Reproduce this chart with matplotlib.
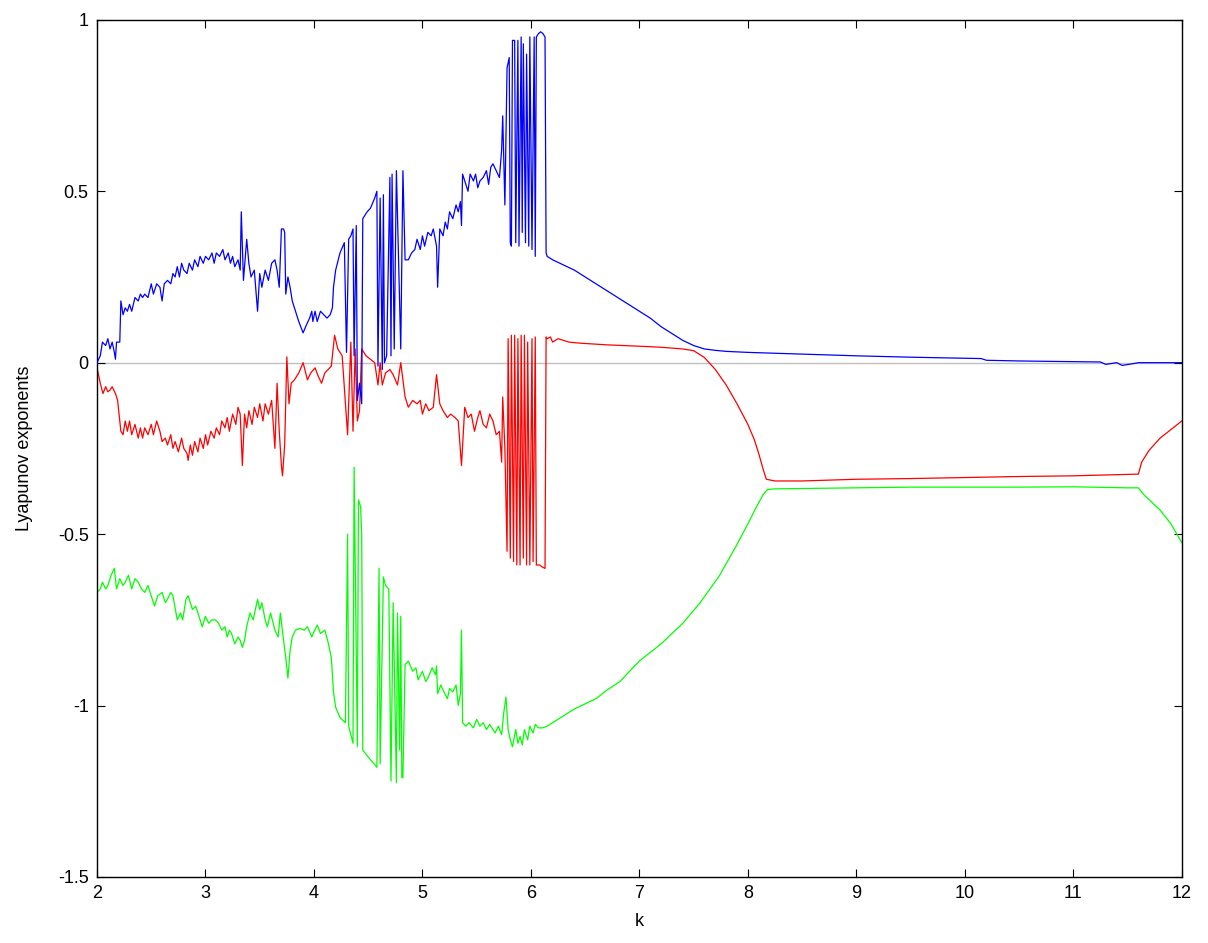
import matplotlib
matplotlib.use("Agg")
import matplotlib.pyplot as plt

plt.rcParams["font.family"] = ["Liberation Sans", "DejaVu Sans"]

# ---- lambda 1 (blue) ----
k_blue = [2.00, 2.03, 2.05, 2.08, 2.10, 2.12, 2.14, 2.16, 2.17, 2.18, 2.21, 2.22, 2.24, 2.26, 2.28,
          2.30, 2.32, 2.35, 2.38, 2.40, 2.42, 2.44, 2.47, 2.50, 2.52, 2.55, 2.58, 2.60, 2.62, 2.65,
          2.68, 2.70, 2.72, 2.74, 2.76, 2.78, 2.80, 2.83, 2.85, 2.88, 2.90, 2.93, 2.95, 2.98, 3.00,
          3.03, 3.06, 3.08, 3.10, 3.13, 3.16, 3.18, 3.21, 3.23, 3.25, 3.27, 3.30, 3.32, 3.33, 3.35,
          3.38, 3.40, 3.42, 3.45, 3.48, 3.50, 3.52, 3.55, 3.58, 3.61, 3.64, 3.66, 3.68, 3.70, 3.72,
          3.73, 3.74, 3.76, 3.78, 3.80, 3.83, 3.86, 3.90, 3.93, 3.96, 3.98, 3.99, 4.01, 4.03, 4.06,
          4.09, 4.12, 4.15, 4.17, 4.18, 4.20, 4.24, 4.28, 4.30, 4.32, 4.34, 4.36, 4.37, 4.39, 4.40,
          4.42, 4.44, 4.45, 4.49, 4.52, 4.56, 4.58, 4.59, 4.61, 4.63, 4.64, 4.65, 4.67, 4.70, 4.71,
          4.72, 4.74, 4.76, 4.80, 4.82, 4.84, 4.87, 4.90, 4.93, 4.95, 4.98, 5.00, 5.02, 5.05, 5.08,
          5.10, 5.13, 5.14, 5.16, 5.19, 5.21, 5.23, 5.25, 5.28, 5.31, 5.33, 5.35, 5.36, 5.37, 5.40,
          5.42, 5.44, 5.47, 5.49, 5.51, 5.53, 5.56, 5.59, 5.61, 5.63, 5.65, 5.68, 5.71, 5.73, 5.74,
          5.76, 5.78, 5.80, 5.81, 5.82, 5.83, 5.85, 5.86, 5.88, 5.89, 5.91, 5.92, 5.93, 5.95, 5.96,
          5.98, 5.99, 6.01, 6.03, 6.04, 6.05, 6.07, 6.09, 6.11, 6.13, 6.14, 6.15, 6.20, 6.30, 6.40,
          6.50, 6.60, 6.70, 6.80, 6.90, 7.00, 7.10, 7.20, 7.30, 7.40, 7.50, 7.60, 7.70, 7.80, 8.00,
          8.30, 8.60, 9.00, 9.50, 10.00, 10.15, 10.20, 10.50, 11.00, 11.25, 11.30, 11.40, 11.45, 11.55, 11.60,
          12.00]
lam1 = [0.00, 0.02, 0.06, 0.05, 0.07, 0.04, 0.06, 0.03, 0.01, 0.06, 0.06, 0.18, 0.14, 0.16, 0.15,
        0.17, 0.15, 0.19, 0.18, 0.20, 0.19, 0.20, 0.19, 0.23, 0.20, 0.23, 0.22, 0.18, 0.23, 0.24,
        0.23, 0.26, 0.25, 0.28, 0.25, 0.29, 0.27, 0.26, 0.29, 0.27, 0.30, 0.28, 0.31, 0.29, 0.31,
        0.30, 0.32, 0.29, 0.32, 0.31, 0.33, 0.30, 0.32, 0.29, 0.31, 0.28, 0.30, 0.27, 0.44, 0.24,
        0.36, 0.29, 0.25, 0.27, 0.15, 0.26, 0.22, 0.27, 0.24, 0.29, 0.30, 0.27, 0.22, 0.39, 0.39,
        0.38, 0.20, 0.25, 0.22, 0.18, 0.15, 0.12, 0.087, 0.11, 0.13, 0.15, 0.12, 0.15, 0.12, 0.15,
        0.14, 0.13, 0.14, 0.16, 0.22, 0.27, 0.32, 0.35, 0.03, 0.36, 0.37, 0.39, 0.02, 0.40, -0.11,
        -0.06, -0.12, 0.42, 0.44, 0.45, 0.48, 0.50, -0.01, 0.48, -0.02, 0.49, 0.00, 0.02, 0.54, 0.02,
        0.55, 0.04, 0.56, 0.04, 0.56, 0.30, 0.30, 0.32, 0.33, 0.36, 0.33, 0.37, 0.34, 0.38, 0.37,
        0.39, 0.34, 0.22, 0.39, 0.37, 0.41, 0.39, 0.44, 0.42, 0.46, 0.44, 0.47, 0.40, 0.55, 0.52,
        0.50, 0.55, 0.53, 0.55, 0.51, 0.53, 0.54, 0.56, 0.52, 0.57, 0.58, 0.56, 0.54, 0.62, 0.72,
        0.46, 0.86, 0.89, 0.35, 0.34, 0.94, 0.94, 0.35, 0.94, 0.34, 0.95, 0.38, 0.93, 0.35, 0.90,
        0.34, 0.95, 0.33, 0.95, 0.31, 0.95, 0.96, 0.965, 0.96, 0.95, 0.32, 0.31, 0.30, 0.285, 0.27,
        0.25, 0.23, 0.21, 0.19, 0.17, 0.15, 0.13, 0.105, 0.085, 0.065, 0.05, 0.04, 0.036, 0.033, 0.03,
        0.027, 0.024, 0.02, 0.016, 0.013, 0.012, 0.007, 0.005, 0.003, 0.002, -0.005, 0.0, -0.008, -0.003, 0.0,
        0.0]

# ---- lambda 2 (red) ----
k_red = [2.00, 2.03, 2.055, 2.08, 2.10, 2.12, 2.14, 2.17, 2.19, 2.22, 2.24, 2.26, 2.28, 2.30, 2.32,
         2.35, 2.38, 2.40, 2.42, 2.44, 2.47, 2.50, 2.52, 2.55, 2.58, 2.60, 2.63, 2.65, 2.68, 2.70,
         2.72, 2.75, 2.78, 2.80, 2.83, 2.84, 2.86, 2.88, 2.90, 2.93, 2.95, 2.98, 3.00, 3.02, 3.05,
         3.08, 3.10, 3.13, 3.15, 3.18, 3.20, 3.22, 3.25, 3.28, 3.30, 3.32, 3.34, 3.36, 3.38, 3.40,
         3.43, 3.45, 3.48, 3.50, 3.53, 3.55, 3.58, 3.61, 3.64, 3.66, 3.68, 3.70, 3.71, 3.73, 3.75,
         3.77, 3.79, 3.82, 3.86, 3.90, 3.94, 3.97, 4.01, 4.04, 4.07, 4.10, 4.13, 4.16, 4.19, 4.22,
         4.26, 4.31, 4.34, 4.36, 4.38, 4.40, 4.42, 4.44, 4.48, 4.52, 4.56, 4.59, 4.61, 4.63, 4.66,
         4.70, 4.73, 4.77, 4.80, 4.82, 4.84, 4.87, 4.91, 4.95, 4.98, 5.00, 5.03, 5.06, 5.10, 5.13,
         5.16, 5.19, 5.23, 5.26, 5.30, 5.33, 5.36, 5.39, 5.42, 5.45, 5.48, 5.51, 5.53, 5.56, 5.59,
         5.62, 5.65, 5.68, 5.71, 5.73, 5.74, 5.76, 5.78, 5.79, 5.81, 5.82, 5.84, 5.85, 5.87, 5.88,
         5.90, 5.91, 5.93, 5.94, 5.96, 5.97, 5.99, 6.01, 6.02, 6.04, 6.05, 6.08, 6.10, 6.13, 6.14,
         6.15, 6.18, 6.20, 6.25, 6.30, 6.35, 6.45, 6.55, 6.70, 7.00, 7.20, 7.40, 7.50, 7.60, 7.70,
         7.80, 7.90, 8.00, 8.06, 8.10, 8.14, 8.17, 8.25, 8.50, 9.00, 9.50, 10.00, 10.50, 11.00, 11.60,
         11.63, 11.70, 11.80, 11.90, 12.00]
lam2 = [-0.015, -0.06, -0.09, -0.07, -0.085, -0.08, -0.07, -0.09, -0.11, -0.20, -0.21, -0.17, -0.20, -0.17, -0.21,
        -0.18, -0.22, -0.19, -0.22, -0.19, -0.21, -0.18, -0.21, -0.17, -0.20, -0.23, -0.22, -0.24, -0.21, -0.25,
        -0.23, -0.26, -0.22, -0.25, -0.265, -0.285, -0.24, -0.27, -0.23, -0.26, -0.22, -0.25, -0.21, -0.24, -0.20,
        -0.22, -0.19, -0.21, -0.17, -0.19, -0.16, -0.20, -0.15, -0.18, -0.13, -0.15, -0.30, -0.15, -0.19, -0.14,
        -0.18, -0.13, -0.16, -0.12, -0.17, -0.12, -0.15, -0.11, -0.25, -0.06, -0.20, -0.30, -0.33, -0.24, 0.017,
        -0.12, -0.06, -0.05, -0.03, 0.0, -0.05, -0.03, -0.015, -0.04, -0.06, -0.03, -0.02, -0.01, 0.08, 0.04,
        0.02, -0.21, 0.06, -0.20, 0.04, -0.17, -0.14, 0.04, 0.02, 0.01, 0.0, -0.065, 0.0, -0.065, -0.03,
        -0.02, -0.035, -0.065, 0.0, -0.05, -0.10, -0.13, -0.11, -0.12, -0.11, -0.15, -0.12, -0.14, -0.13, -0.035,
        -0.12, -0.14, -0.16, -0.15, -0.16, -0.17, -0.30, -0.13, -0.16, -0.15, -0.20, -0.16, -0.14, -0.18, -0.19,
        -0.15, -0.17, -0.21, -0.20, -0.29, -0.10, -0.25, -0.55, 0.07, -0.57, 0.08, -0.58, 0.08, -0.59, 0.07,
        -0.59, 0.08, -0.57, 0.08, -0.59, 0.06, -0.59, 0.07, -0.58, 0.075, -0.59, -0.59, -0.595, -0.60, 0.075,
        0.07, 0.075, 0.06, 0.07, 0.065, 0.06, 0.057, 0.055, 0.052, 0.048, 0.045, 0.04, 0.035, 0.015, -0.02,
        -0.065, -0.12, -0.18, -0.225, -0.265, -0.31, -0.34, -0.345, -0.345, -0.34, -0.338, -0.335, -0.332, -0.33, -0.325,
        -0.29, -0.255, -0.22, -0.195, -0.17]

# ---- lambda 3 (green) ----
k_green = [2.00, 2.03, 2.05, 2.08, 2.10, 2.13, 2.16, 2.18, 2.21, 2.24, 2.26, 2.29, 2.32, 2.35, 2.38,
           2.41, 2.44, 2.47, 2.51, 2.53, 2.56, 2.60, 2.63, 2.65, 2.68, 2.70, 2.74, 2.77, 2.79, 2.82,
           2.84, 2.88, 2.91, 2.93, 2.97, 3.00, 3.03, 3.06, 3.09, 3.12, 3.15, 3.18, 3.20, 3.22, 3.24,
           3.27, 3.30, 3.32, 3.34, 3.36, 3.38, 3.41, 3.44, 3.48, 3.50, 3.52, 3.55, 3.57, 3.60, 3.64,
           3.67, 3.69, 3.72, 3.74, 3.76, 3.78, 3.80, 3.83, 3.87, 3.91, 3.94, 3.98, 4.00, 4.03, 4.06,
           4.10, 4.13, 4.16, 4.18, 4.20, 4.24, 4.29, 4.31, 4.32, 4.36, 4.37, 4.40, 4.41, 4.43, 4.44,
           4.45, 4.50, 4.58, 4.60, 4.61, 4.64, 4.66, 4.69, 4.71, 4.73, 4.76, 4.77, 4.79, 4.80, 4.81,
           4.82, 4.84, 4.87, 4.91, 4.94, 4.96, 5.00, 5.03, 5.05, 5.09, 5.12, 5.13, 5.14, 5.17, 5.19,
           5.23, 5.25, 5.28, 5.31, 5.33, 5.35, 5.36, 5.37, 5.40, 5.43, 5.47, 5.50, 5.53, 5.56, 5.59,
           5.62, 5.64, 5.67, 5.70, 5.73, 5.75, 5.77, 5.79, 5.81, 5.83, 5.86, 5.88, 5.90, 5.92, 5.94,
           5.97, 5.99, 6.02, 6.04, 6.07, 6.11, 6.15, 6.20, 6.30, 6.40, 6.50, 6.60, 6.70, 6.82, 7.00,
           7.20, 7.40, 7.56, 7.74, 7.90, 8.00, 8.08, 8.14, 8.18, 8.25, 8.50, 9.00, 9.50, 10.00, 10.50,
           11.00, 11.50, 11.60, 11.65, 11.70, 11.80, 11.90, 12.00]
lam3 = [-0.67, -0.66, -0.64, -0.66, -0.65, -0.62, -0.60, -0.66, -0.63, -0.65, -0.64, -0.62, -0.66, -0.63, -0.64,
        -0.66, -0.67, -0.65, -0.69, -0.71, -0.68, -0.67, -0.70, -0.69, -0.67, -0.68, -0.75, -0.73, -0.75, -0.69,
        -0.68, -0.72, -0.71, -0.73, -0.77, -0.74, -0.76, -0.75, -0.75, -0.76, -0.78, -0.77, -0.80, -0.78, -0.79,
        -0.82, -0.80, -0.81, -0.83, -0.81, -0.77, -0.73, -0.75, -0.69, -0.72, -0.70, -0.75, -0.77, -0.73, -0.78,
        -0.80, -0.73, -0.81, -0.86, -0.92, -0.84, -0.80, -0.78, -0.775, -0.78, -0.77, -0.80, -0.785, -0.765, -0.79,
        -0.78, -0.815, -0.86, -0.96, -1.005, -1.035, -1.05, -0.50, -1.06, -1.11, -0.305, -1.12, -0.40, -0.42, -0.50,
        -1.13, -1.15, -1.18, -0.60, -1.17, -0.625, -0.65, -0.66, -1.22, -0.70, -1.225, -0.73, -1.13, -0.74, -1.21,
        -1.21, -0.88, -0.87, -0.90, -0.89, -0.925, -0.90, -0.93, -0.92, -0.89, -0.91, -0.885, -0.965, -0.94, -0.955,
        -0.98, -0.95, -0.96, -0.94, -1.00, -0.965, -0.78, -1.05, -1.06, -1.05, -1.065, -1.04, -1.06, -1.05, -1.07,
        -1.055, -1.065, -1.08, -1.06, -1.085, -1.02, -0.975, -1.07, -1.10, -1.12, -1.07, -1.11, -1.09, -1.115, -1.07,
        -1.10, -1.06, -1.08, -1.055, -1.065, -1.065, -1.06, -1.05, -1.03, -1.01, -0.995, -0.98, -0.955, -0.93, -0.87,
        -0.82, -0.76, -0.70, -0.62, -0.53, -0.47, -0.42, -0.385, -0.37, -0.368, -0.367, -0.365, -0.363, -0.363, -0.363,
        -0.362, -0.365, -0.365, -0.385, -0.40, -0.43, -0.47, -0.525]

xticks = [2, 3, 4, 5, 6, 7, 8, 9, 10, 11, 12]
yticks = [-1.5, -1, -0.5, 0, 0.5, 1]
ytick_labels = ["-1.5", "-1", "-0.5", "0", "0.5", "1"]

fig = plt.figure(figsize=(12.08, 9.43), dpi=100)
ax = fig.add_axes([0.0803, 0.070, 0.898, 0.909])

ax.axhline(0, color="#c0c0c0", lw=1.0, zorder=1)
ax.plot(k_blue, lam1, color="#0000ff", lw=0.9, zorder=3)
ax.plot(k_red, lam2, color="#ff0000", lw=0.9, zorder=2)
ax.plot(k_green, lam3, color="#00ff00", lw=0.9, zorder=2)

ax.set_xlim(2, 12)
ax.set_ylim(-1.5, 1)
ax.set_xticks(xticks)
ax.set_xticklabels([str(t) for t in xticks])
ax.set_yticks(yticks)
ax.set_yticklabels(ytick_labels)
ax.tick_params(direction="in", length=6, width=0.8, labelsize=13,
               top=True, right=True, pad=6)
for sp in ax.spines.values():
    sp.set_linewidth(1.0)

ax.set_xlabel("k", fontsize=13, labelpad=8)
ax.set_ylabel("Lyapunov exponents", fontsize=13, labelpad=18)

fig.savefig("out.png", dpi=100)
